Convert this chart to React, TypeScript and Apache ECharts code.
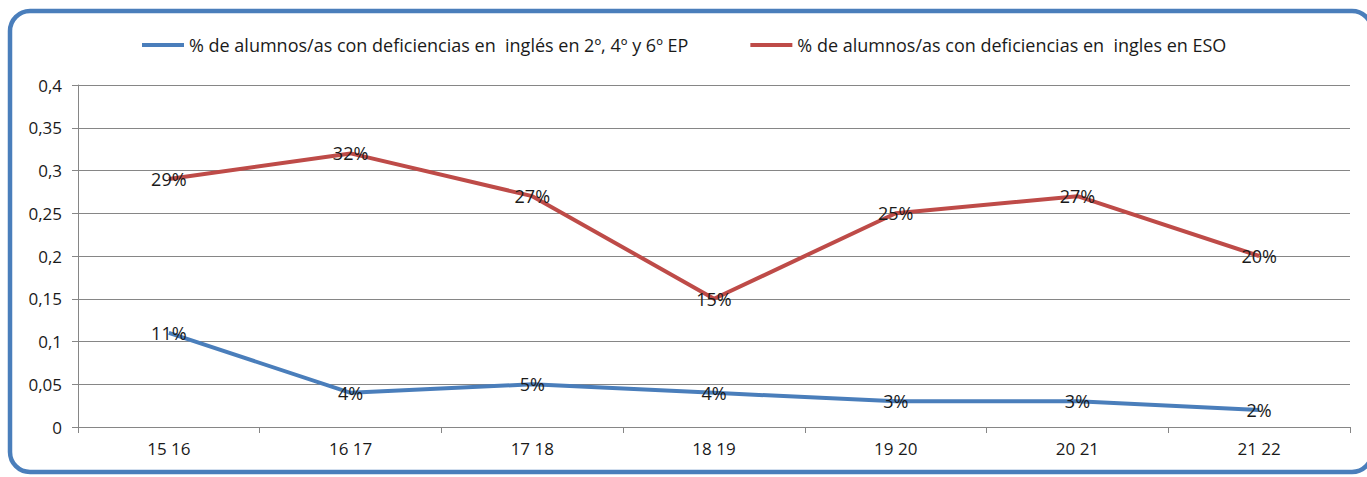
import React, { useEffect, useRef } from "react";
import * as echarts from "echarts";

const categories = ["15 16", "16 17", "17 18", "18 19", "19 20", "20 21", "21 22"];
const primaria = [0.11, 0.04, 0.05, 0.04, 0.03, 0.03, 0.02];
const eso = [0.29, 0.32, 0.27, 0.15, 0.25, 0.27, 0.2];
const seriesNames = [
  "% de alumnos/as con deficiencias en  inglés en 2º, 4º y 6º EP",
  "% de alumnos/as con deficiencias en  ingles en ESO",
];
const seriesColors = ["#4a7ebb", "#be4b48"];

const FONT = "Open Sans";

export default function App() {
  const ref = useRef<HTMLDivElement>(null);
  useEffect(() => {
    document.body.style.margin = "0";
    const chart = echarts.init(ref.current!, null, { renderer: "svg" });
    const pct = (p: any) => Math.round(p.value * 100) + "%";
    const lbl = {
      show: true,
      position: "inside",
      formatter: pct,
      fontSize: 18,
      color: "#1a1a1a",
      fontFamily: FONT,
    };
    chart.setOption({
      animation: false,
      backgroundColor: "#ffffff",
      textStyle: { fontFamily: FONT },
      graphic: [
        {
          type: "rect",
          shape: { x: 10, y: 11, width: 1362, height: 461, r: 20 },
          style: { fill: "none", stroke: "#4a7ebb", lineWidth: 4.5 },
          z: 100,
        },
      ],
      legend: {
        top: 31,
        left: 137,
        itemGap: 62,
        itemWidth: 42,
        itemHeight: 4,
        icon: "rect",
        textStyle: { fontSize: 18, color: "#1a1a1a", fontFamily: FONT },
        data: seriesNames.map((n, i) => ({ name: n, itemStyle: { color: seriesColors[i], opacity: 1 } })),
      },
      grid: { left: 78, right: 17, top: 85, bottom: 50 },
      xAxis: {
        type: "category",
        data: categories,
        boundaryGap: true,
        axisLine: { lineStyle: { color: "#868686" } },
        axisTick: { show: true, length: 6, lineStyle: { color: "#868686" } },
        axisLabel: { fontSize: 17, color: "#1a1a1a", margin: 13, fontFamily: FONT },
      },
      yAxis: {
        type: "value",
        min: 0,
        max: 0.4,
        interval: 0.05,
        axisLine: { show: true, lineStyle: { color: "#868686" } },
        axisTick: { show: true, length: 6, lineStyle: { color: "#868686" } },
        splitLine: { lineStyle: { color: "#868686" } },
        axisLabel: {
          fontSize: 17,
          color: "#1a1a1a",
          margin: 16,
          fontFamily: FONT,
          formatter: (v: number) => String(Math.round(v * 100) / 100).replace(".", ","),
        },
      },
      series: [0, 1].map((i) => ({
        name: seriesNames[i],
        type: "line",
        data: i === 0 ? primaria : eso,
        symbol: "circle",
        symbolSize: 1,
        showSymbol: true,
        itemStyle: { color: "transparent", borderWidth: 0 },
        lineStyle: { width: 4, color: seriesColors[i] },
        label: lbl,
        z: 2,
      })),
    });
    return () => chart.dispose();
  }, []);
  return <div ref={ref} style={{ width: 1367, height: 477 }} />;
}
